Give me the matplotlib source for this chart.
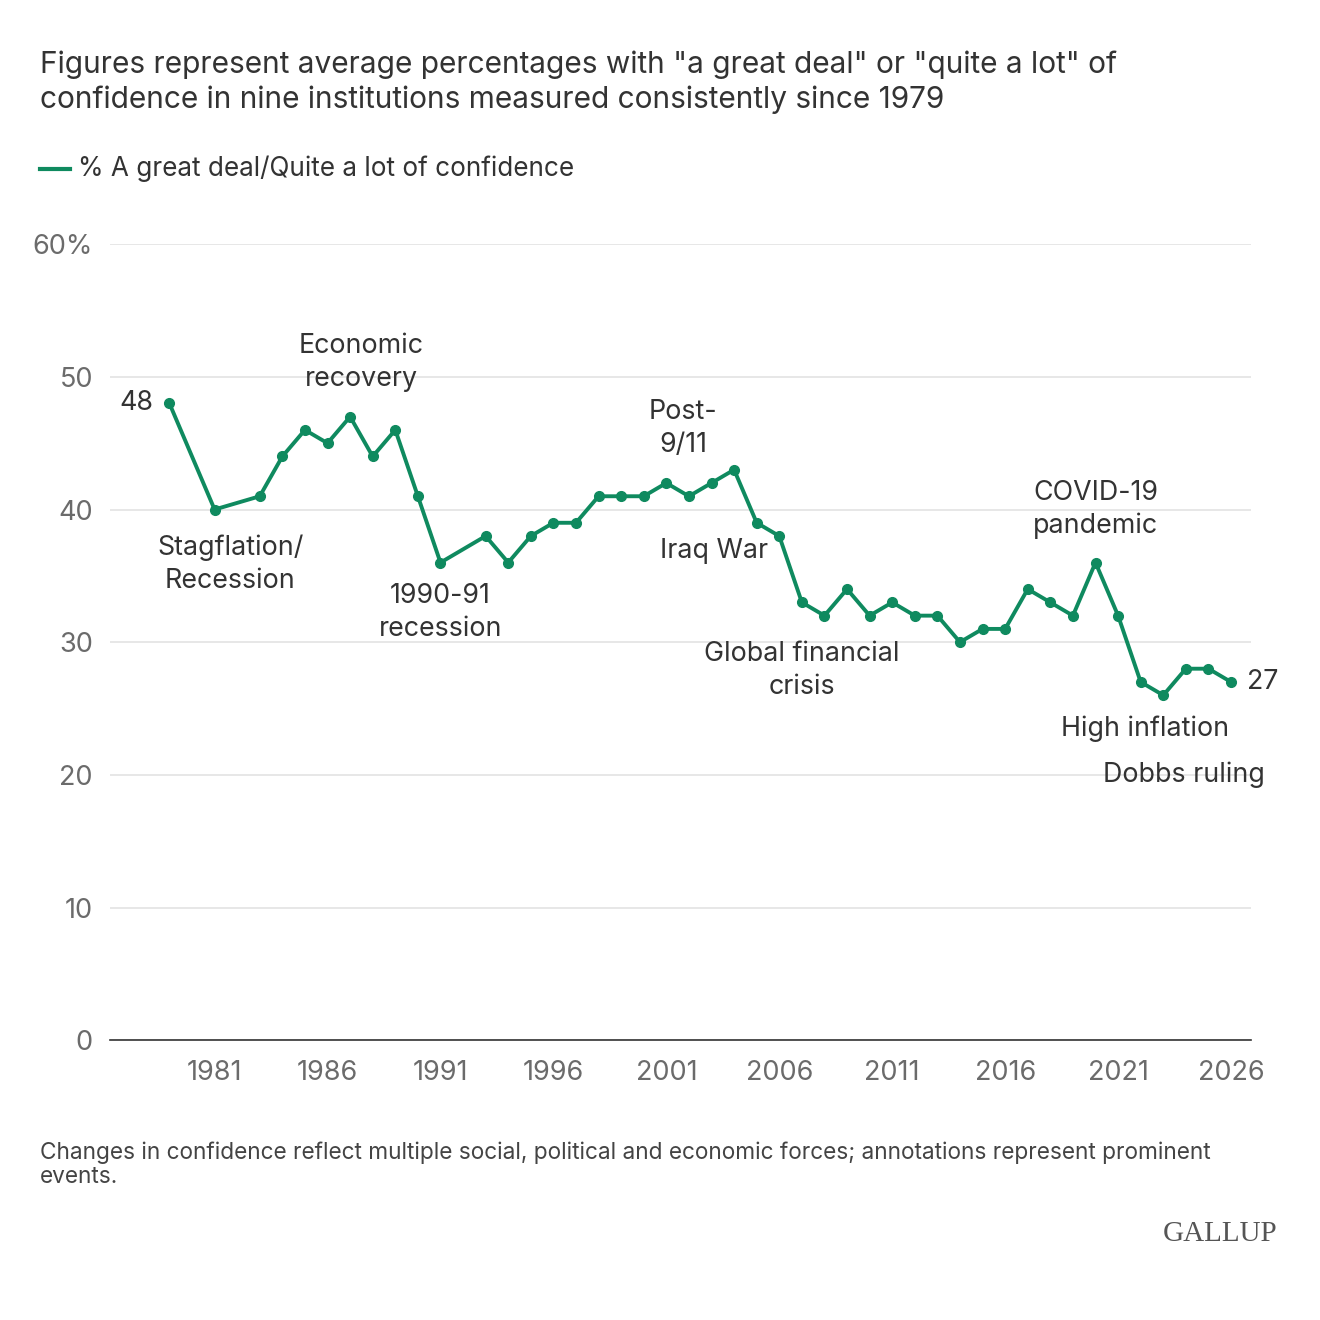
import matplotlib.pyplot as plt

years = [1979, 1981, 1983, 1984, 1985, 1986, 1987, 1988, 1989, 1990, 1991, 1993, 1994, 1995,
         1996, 1997, 1998, 1999, 2000, 2001, 2002, 2003, 2004, 2005, 2006, 2007, 2008, 2009,
         2010, 2011, 2012, 2013, 2014, 2015, 2016, 2017, 2018, 2019, 2020, 2021, 2022, 2023,
         2024, 2025, 2026]
values = [48, 40, 41, 44, 46, 45, 47, 44, 46, 41, 36, 38, 36, 38,
          39, 39, 41, 41, 41, 42, 41, 42, 43, 39, 38, 33, 32, 34,
          32, 33, 32, 32, 30, 31, 31, 34, 33, 32, 36, 32, 27, 26,
          28, 28, 27]
xticks = [1981, 1986, 1991, 1996, 2001, 2006, 2011, 2016, 2021, 2026]
yticks = [0, 10, 20, 30, 40, 50, 60]
ylabels = ['0', '10', '20', '30', '40', '50', '60%']
# (text, x, y)
notes = [
    ("Stagflation/\nRecession", 1981.7, 35.9),
    ("Economic\nrecovery", 1987.5, 51.1),
    ("1990-91\nrecession", 1991.0, 32.2),
    ("Post-\n9/11", 2001.75, 46.1),
    ("Iraq War", 2003.1, 36.9),
    ("Global financial\ncrisis", 2007.0, 27.9),
    ("COVID-19\npandemic", 2020.0, 40.0),
    ("High inflation", 2022.2, 23.5),
    ("Dobbs ruling", 2023.9, 20.0),
]

green = '#0f8a5f'
grey = '#6b6b6b'
plt.rcParams['font.family'] = ['Inter', 'DejaVu Sans']

fig = plt.figure(figsize=(13.2, 13.2), dpi=100)
ax = fig.add_axes([0.083, 0.212, 0.865, 0.603])
ax.plot(years, values, color=green, lw=2.8, marker='o', ms=7, zorder=3)
ax.set_xlim(1976.35, 2026.9)
ax.set_ylim(0, 60)
ax.set_xticks(xticks)
ax.set_yticks(yticks)
ax.set_yticklabels(ylabels)
ax.tick_params(axis='both', length=0, labelsize=19.5, labelcolor=grey)
ax.tick_params(axis='x', pad=14)
ax.tick_params(axis='y', pad=12)
for lab in ax.get_yticklabels():
    lab.set_horizontalalignment('right')
ax.grid(axis='y', color='#e3e3e3', lw=1.2)
for s in ['top', 'right', 'left']:
    ax.spines[s].set_visible(False)
ax.spines['bottom'].set_color('#333333')
ax.spines['bottom'].set_linewidth(1.2)

for txt, x, y in notes:
    ax.text(x, y, txt, ha='center', va='center', fontsize=19.3, color='#333333', linespacing=1.35)
ax.text(years[0] - 0.7, values[0], str(values[0]), ha='right', va='center', fontsize=19.3, color='#333333')
ax.text(years[-1] + 0.7, values[-1], str(values[-1]), ha='left', va='center', fontsize=19.3, color='#333333')

fig.text(0.03, 0.962, 'Figures represent average percentages with "a great deal" or "quite a lot" of\n'
         'confidence in nine institutions measured consistently since 1979',
         fontsize=21.5, color='#333333', va='top', linespacing=1.3)
fig.lines.append(plt.Line2D([0.03, 0.053], [0.872, 0.872], color=green, lw=3, transform=fig.transFigure))
fig.text(0.059, 0.872, '% A great deal/Quite a lot of confidence', fontsize=18.8, color='#333333', va='center')
fig.text(0.03, 0.135, 'Changes in confidence reflect multiple social, political and economic forces; annotations represent prominent\nevents.',
         fontsize=16.3, color='#444444', va='top', linespacing=1.1)
fig.text(0.968, 0.065, 'GALLUP', fontsize=21, family='Liberation Serif', color='#555555', ha='right', va='center')

fig.savefig('out.png', dpi=100, facecolor='white')
